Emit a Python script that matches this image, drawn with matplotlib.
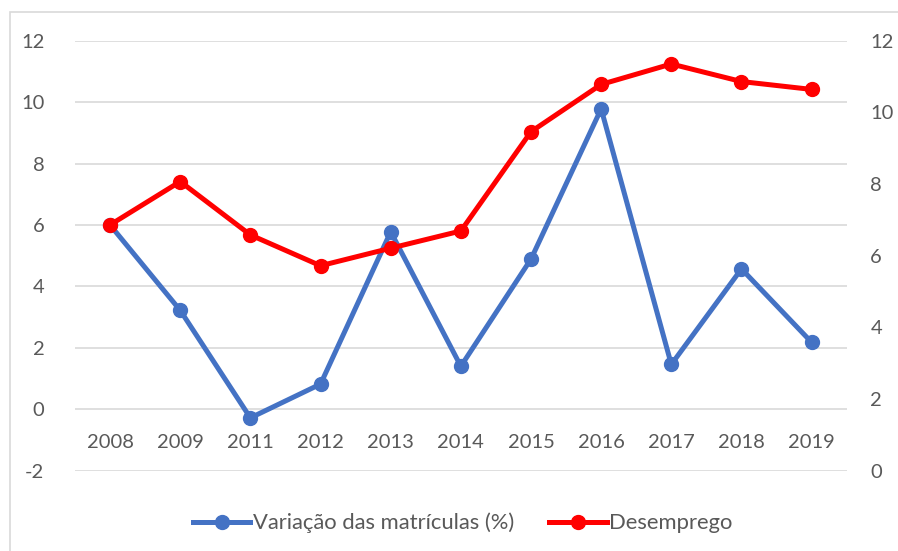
import matplotlib.pyplot as plt
from matplotlib.patches import Rectangle
from matplotlib.lines import Line2D

plt.rcParams['font.family'] = ['Lato', 'DejaVu Sans']
plt.rcParams['axes.unicode_minus'] = False

anos = ['2008', '2009', '2011', '2012', '2013', '2014', '2015', '2016', '2017', '2018', '2019']
matriculas = [6.0, 3.22, -0.28, 0.82, 5.78, 1.40, 4.89, 9.78, 1.46, 4.57, 2.18]
desemprego = [6.86, 8.07, 6.58, 5.72, 6.21, 6.69, 9.46, 10.78, 11.35, 10.86, 10.64]

azul = '#4472C4'
vermelho = '#FF0000'
cinza = '#595959'

fig = plt.figure(figsize=(8.98, 5.51), dpi=100)
fig.patches.append(Rectangle((10 / 898, -0.1), 1.2, 1 - 12 / 551 + 0.1, transform=fig.transFigure,
                             fill=False, edgecolor='#D9D9D9', linewidth=1.2))
ax = fig.add_axes([75 / 898, 1 - 470.7 / 551, (846.7 - 75) / 898, 430 / 551])
ax2 = ax.twinx()

x = list(range(len(anos)))
ax.plot(x, matriculas, color=azul, lw=3.6, marker='o', ms=10, solid_capstyle='round',
        label='Variação das matrículas (%)')
ax2.plot(x, desemprego, color=vermelho, lw=3.6, marker='o', ms=10, solid_capstyle='round',
         label='Desemprego')

ax.set_xlim(-0.5, len(anos) - 0.5)
ax.set_ylim(-2, 12)
ax.set_yticks(range(-2, 13, 2))
ax2.set_ylim(0, 12)
ax2.set_yticks(range(0, 13, 2))

ax.grid(axis='y', color='#D9D9D9', lw=1.2)
ax.set_axisbelow(True)
for a in (ax, ax2):
    for s in a.spines.values():
        s.set_visible(False)

# rótulos dos anos na linha do zero
ax.spines['bottom'].set_position(('data', 0))
ax.set_xticks(x)
ax.set_xticklabels(anos)
ax.tick_params(axis='x', length=0, pad=17.5, labelsize=14.5, labelcolor=cinza)
ax.tick_params(axis='y', length=0, pad=22, labelsize=14.5, labelcolor=cinza)
ax2.tick_params(axis='y', length=0, pad=17, labelsize=14.5, labelcolor=cinza)

handles = [Line2D([], [], color=azul, lw=3.6, marker='o', ms=10),
           Line2D([], [], color=vermelho, lw=3.6, marker='o', ms=10)]
fig.legend(handles, ['Variação das matrículas (%)', 'Desemprego'], loc='center',
           bbox_to_anchor=(463 / 898, 1 - 523 / 551), ncol=2, frameon=False,
           fontsize=15.8, labelcolor=cinza, handlelength=2.6, handletextpad=0.12,
           columnspacing=1.6)

fig.savefig('out.png', dpi=100)
